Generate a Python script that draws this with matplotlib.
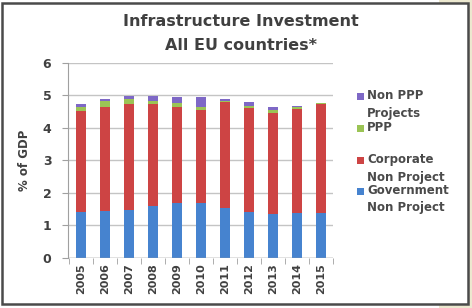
import matplotlib
matplotlib.use("Agg")
import matplotlib.pyplot as plt
from matplotlib.patches import Rectangle
import numpy as np

years = ["2005", "2006", "2007", "2008", "2009", "2010", "2011", "2012", "2013", "2014", "2015"]
government = [1.41, 1.44, 1.47, 1.59, 1.69, 1.69, 1.52, 1.42, 1.34, 1.38, 1.38]
corporate = [3.10, 3.21, 3.25, 3.13, 2.96, 2.86, 3.28, 3.20, 3.10, 3.20, 3.34]
ppp = [0.12, 0.16, 0.16, 0.10, 0.10, 0.10, 0.02, 0.05, 0.10, 0.05, 0.03]
non_ppp = [0.09, 0.07, 0.10, 0.16, 0.18, 0.28, 0.07, 0.11, 0.11, 0.05, 0.00]

series_names = ["Government\nNon Project", "Corporate\nNon Project", "PPP", "Non PPP\nProjects"]
series_colors = ["#4683cf", "#cd4444", "#9bc455", "#7e68c6"]
series = [government, corporate, ppp, non_ppp]

title_lines = ["Infrastructure Investment", "All EU countries*"]
ylabel = "% of GDP"
yticks = [0, 1, 2, 3, 4, 5, 6]

W, H = 472, 308
fig = plt.figure(figsize=(W / 100, H / 100), dpi=100)
fig.patch.set_facecolor("white")

# outer frame and beige margins
fig.add_artist(Rectangle((469 / W, 0), 3 / W, 1, transform=fig.transFigure,
                         facecolor="#ece8cf", edgecolor="none", zorder=0))
fig.add_artist(Rectangle((439 / W, 1 - 3 / H), 33 / W, 3 / H, transform=fig.transFigure,
                         facecolor="#ece8cf", edgecolor="none", zorder=0))
fig.add_artist(Rectangle((439 / W, 0), 33 / W, 4 / H, transform=fig.transFigure,
                         facecolor="#ece8cf", edgecolor="none", zorder=0))
fig.add_artist(Rectangle((2 / W, 4 / H), 466 / W, (H - 7) / H, transform=fig.transFigure,
                         facecolor="white", edgecolor="#4a4a4a", linewidth=1.8, zorder=1))

ax = fig.add_axes([68 / W, (H - 257.7) / H, 265 / W, 195 / H])
ax.set_facecolor("none")
ax.set_zorder(2)

x = np.arange(len(years))
bottom = np.zeros(len(years))
for vals, col, name in zip(series, series_colors, series_names):
    ax.bar(x, vals, width=0.42, bottom=bottom, color=col, edgecolor="none", zorder=3)
    bottom += np.array(vals)

ax.set_xlim(-0.55, 10.5)
ax.set_ylim(0, 6)
ax.set_yticks(yticks)
ax.yaxis.grid(True, color="#c4c4c4", linewidth=1.0, zorder=0)
ax.set_axisbelow(True)
for s in ["top", "right", "bottom"]:
    ax.spines[s].set_visible(False)
ax.spines["left"].set_color("#a0a0a0")
ax.set_xticks(x)
ax.set_xticklabels(years, rotation=90, fontsize=8, color="#404040", fontweight="bold")
ax.tick_params(axis="x", length=0, pad=4)
ax.set_xticks(np.arange(-0.5, 11, 1), minor=True)
ax.tick_params(axis="x", which="minor", length=4, color="#a0a0a0")
ax.tick_params(axis="y", length=4, color="#a0a0a0", labelsize=9, labelcolor="#404040", pad=8)
for lab in ax.get_yticklabels():
    lab.set_fontweight("bold")
ax.axhline(0, color="#a0a0a0", linewidth=1.0, zorder=4)
ax.set_ylabel(ylabel, fontsize=8.5, fontweight="bold", color="#404040", labelpad=8)

fig.text(241 / W, 1 - 22 / H, title_lines[0], ha="center", va="center",
         fontsize=11.5, fontweight="bold", color="#404040")
fig.text(241 / W, 1 - 45 / H, title_lines[1], ha="center", va="center",
         fontsize=11.5, fontweight="bold", color="#404040")

# legend (reverse stacking order), square aligned with first text line
leg_y = [96, 128, 160, 191]
for yy, name, col in zip(leg_y, series_names[::-1], series_colors[::-1]):
    fig.add_artist(Rectangle((357 / W, 1 - (yy + 3.5) / H), 7 / W, 7 / H,
                             transform=fig.transFigure, facecolor=col,
                             edgecolor="none", zorder=3))
    fig.text(367 / W, 1 - (yy - 7) / H, name, ha="left", va="top", fontsize=8.5,
             fontweight="bold", color="#4a4a4a", linespacing=1.45, zorder=3)

fig.savefig("out.png", dpi=100)
